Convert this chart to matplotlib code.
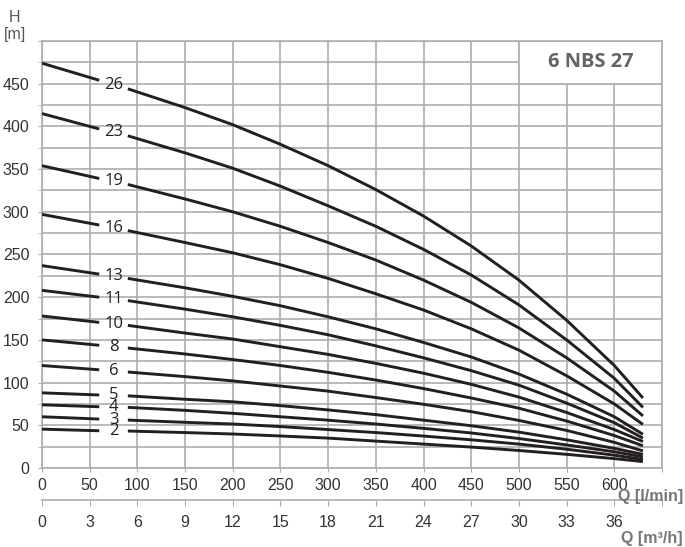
import numpy as np
import matplotlib.pyplot as plt
from matplotlib.patches import Rectangle

# flow rate points in l/min (60 and 90 are the ends of the gap left for the stage label)
q = [0, 60, 90, 150, 200, 250, 300, 350, 400, 450, 500, 550, 600, 630]

# head in m, one list per stage count
h26 = [474, 454, 444, 422, 402, 379, 354, 326, 295, 260, 220, 173, 120, 82]
h23 = [415, 397, 389, 369, 351, 330, 307, 283, 256, 226, 191, 150, 105, 71]
h19 = [354, 339, 332, 315, 300, 283, 264, 243.5, 220, 194, 164, 129, 90, 61]
h16 = [297, 284.5, 278, 264, 252, 238, 222, 204, 185, 163, 138, 108, 75, 51]
h13 = [237, 227, 222, 211, 201, 190, 177, 163, 147, 130, 110, 86.5, 60, 39.5]
h11 = [208, 200, 196, 186, 177, 167, 156, 143, 129, 114, 97, 76, 53, 35]
h10 = [178, 170.5, 167, 158, 151, 142, 133, 122.5, 111, 98, 83, 65, 45, 31]
h8 = [150, 143.7, 140.5, 133.5, 127, 120, 112, 103, 93, 82, 70, 55, 38, 26]
h6 = [120, 115, 112.4, 107, 102, 96, 90, 82.5, 74.6, 66, 55.7, 44, 30, 20]
h5 = [88, 85.5, 84.5, 80.5, 77.5, 73, 68, 62.5, 56, 49.5, 42, 33, 23, 16]
h4 = [74, 71.7, 71, 67.5, 64, 60, 56, 51.5, 46.4, 41, 34.5, 27, 19, 13]
h3 = [60, 57.3, 56.1, 53.5, 51.5, 48.5, 45, 41.5, 37.4, 33, 28, 22, 15, 10]
h2 = [45.5, 43.6, 43.3, 41.5, 39.8, 37.5, 35, 31.5, 28, 24.5, 20.5, 16, 11, 7.5]

stages = [26, 23, 19, 16, 13, 11, 10, 8, 6, 5, 4, 3, 2]
heads = [h26, h23, h19, h16, h13, h11, h10, h8, h6, h5, h4, h3, h2]

x_ticks = list(range(0, 601, 50))
m3h_ticks = list(range(0, 37, 3))
y_ticks = list(range(0, 451, 50))
title = "6 NBS 27"

GRID = "#adadad"
TICK_FONT = ["Liberation Sans Narrow", "Liberation Sans", "DejaVu Sans"]

fig = plt.figure(figsize=(6.85, 5.47), dpi=100)
ax = fig.add_axes([42 / 685, 79 / 547, 620 / 685, 427 / 547])
ax.set_xlim(0, 650)
ax.set_ylim(0, 500)

ax.set_xticks(x_ticks + [650])
ax.set_xticklabels([str(v) for v in x_ticks] + [""])
ax.set_yticks(y_ticks + [500])
ax.set_yticklabels([str(v) for v in y_ticks] + [""])
ax.set_yticks(np.arange(25, 500, 50), minor=True)
ax.grid(True, which="both", color=GRID, lw=1.2)
ax.set_axisbelow(True)
for s in ax.spines.values():
    s.set_color(GRID)
    s.set_linewidth(1.2)
ax.tick_params(which="both", length=3, color=GRID, labelcolor="#333333",
               labelsize=11.5)
ax.tick_params(axis="x", pad=4)
ax.tick_params(axis="y", pad=6)
for lab in ax.get_xticklabels() + ax.get_yticklabels():
    lab.set_family(TICK_FONT)

# title box
ax.add_patch(Rectangle((500, 450), 150, 50, facecolor="white",
                       edgecolor=GRID, lw=1.2, zorder=2))
ax.text(575, 475, title, ha="center", va="center", fontsize=14.5,
        fontweight="bold", color="#636466", family="Open Sans", zorder=3)

for n, h in zip(stages, heads):
    ax.plot(q[:2], h[:2], color="#231f20", lw=2.1, zorder=4,
            solid_capstyle="butt")
    ax.plot(q[2:], h[2:], color="#231f20", lw=2.1, zorder=4,
            solid_capstyle="butt", solid_joinstyle="round")
    ax.text(75, (h[1] + h[2]) / 2, str(n), ha="center", va="center",
            fontsize=12, color="#231f20", family="Open Sans", zorder=5)

# second flow axis in m3/h
sec = ax.secondary_xaxis(-32 / 427, functions=(lambda v: v * 0.06,
                                                lambda v: v / 0.06))
sec.set_xticks(m3h_ticks + [39])
sec.set_xticklabels([str(v) for v in m3h_ticks] + [""])
sec.spines["bottom"].set_color(GRID)
sec.spines["bottom"].set_linewidth(1.2)
sec.tick_params(length=4, color=GRID, labelcolor="#333333", labelsize=11.5,
                pad=7)
for lab in sec.get_xticklabels():
    lab.set_family(TICK_FONT)

fig.text(15 / 685, 1 - 17 / 547, "H", ha="center", va="center",
         fontsize=11.5, color="#555555", family=TICK_FONT)
fig.text(15 / 685, 1 - 34 / 547, "[m]", ha="center", va="center",
         fontsize=11.5, color="#555555", family=TICK_FONT)
fig.text(683 / 685, 1 - 497 / 547, "Q [l/min]", ha="right", va="center",
         fontsize=11.5, fontweight="bold", color="#777777", family=TICK_FONT)
fig.text(683 / 685, 1 - 538 / 547, "Q [m³/h]", ha="right", va="center",
         fontsize=11.5, fontweight="bold", color="#777777", family=TICK_FONT)

fig.savefig("out.png", dpi=100)
